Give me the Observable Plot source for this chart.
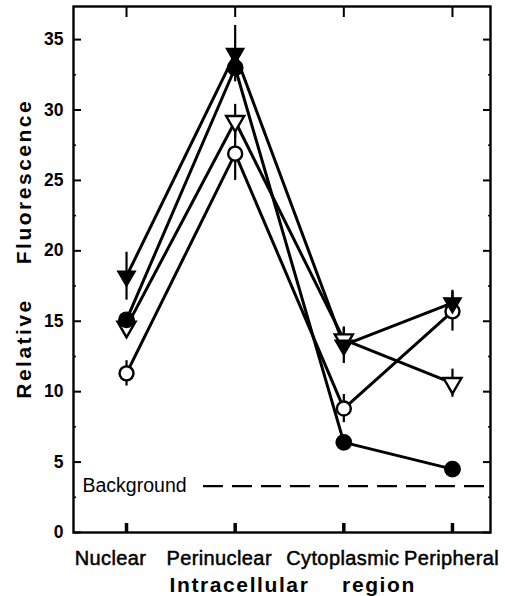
<!DOCTYPE html>
<html><head><meta charset="utf-8">
<script src="https://cdn.jsdelivr.net/npm/d3@7"></script>
<script src="https://cdn.jsdelivr.net/npm/@observablehq/plot@0.6"></script>
<style>body{margin:0;background:#fff;} svg{display:block;}</style>
</head><body><div id="chart"></div>
<script>
const regions = ["Nuclear", "Perinuclear", "Cytoplasmic", "Peripheral"];
const yTicks = [0, 5, 10, 15, 20, 25, 30, 35];
const yMinorTicks = [2.5, 7.5, 12.5, 17.5, 22.5, 27.5, 32.5];
// series values (Nuclear, Perinuclear, Cytoplasmic, Peripheral)
const filledTri = [18.2, 34.0, 13.3, 16.3];
const filledTriErr = [1.7, 2.0, 1.3, 0.9];
const filledCirc = [15.1, 33.0, 6.4, 4.5];
const filledCircErr = [0.4, 0.5, 0.3, 0.3];
const openTri = [14.6, 29.2, 13.7, 10.6];
const openTriErr = [0.8, 1.2, 0.8, 1.0];
const openCirc = [11.3, 26.9, 8.8, 15.7];
const openCircErr = [0.9, 1.9, 1.0, 1.4];
const background = 3.3;

const series = [
  {name: "filledTri", values: filledTri, err: filledTriErr},
  {name: "filledCirc", values: filledCirc, err: filledCircErr},
  {name: "openTri", values: openTri, err: openTriErr},
  {name: "openCirc", values: openCirc, err: openCircErr}
];
const rows = series.flatMap(s => s.values.map((v, i) => ({series: s.name, i, v, lo: v - s.err[i], hi: v + s.err[i]})));
const of = name => rows.filter(d => d.series === name);
const idx = regions.map((_, i) => i);
const font = "'Liberation Sans', Arial, Helvetica, sans-serif";
const blank = () => "";

const chart = Plot.plot({
  width: 505, height: 596,
  marginLeft: 73, marginRight: 15, marginTop: 6, marginBottom: 64,
  style: {fontFamily: font, background: "white", color: "black"},
  x: {domain: [-0.488, 3.35], axis: null},
  y: {domain: [0, 37.35], axis: null},
  marks: [
    // inner ticks
    Plot.axisY(yTicks, {anchor: "left", tickSize: -8, strokeWidth: 2, tickFormat: blank, label: null}),
    Plot.axisY(yTicks, {anchor: "right", tickSize: -8, strokeWidth: 2, tickFormat: blank, label: null}),
    Plot.axisY(yMinorTicks, {anchor: "left", tickSize: -3, strokeWidth: 1.5, tickFormat: blank, label: null}),
    Plot.axisY(yMinorTicks, {anchor: "right", tickSize: -3, strokeWidth: 1.5, tickFormat: blank, label: null}),
    Plot.axisX(idx, {anchor: "top", tickSize: -10, strokeWidth: 2, tickFormat: blank, label: null}),
    Plot.axisX(idx, {anchor: "bottom", tickSize: -9, strokeWidth: 3.5, tickFormat: blank, label: null}),
    // tick labels
    Plot.axisY(yTicks, {anchor: "left", tickSize: 0, tickPadding: 10, fontSize: 17.5, fontWeight: "bold", tickFormat: d => String(d), label: null}),
    Plot.axisX([0, 1], {anchor: "bottom", tickSize: 0, tickPadding: 18, fontSize: 20, dx: -16, tickFormat: i => regions[i], label: null}),
    Plot.axisX([2, 3], {anchor: "bottom", tickSize: 0, tickPadding: 18, fontSize: 20, dx: -1, tickFormat: i => regions[i], label: null}),
    // frame
    Plot.frame({strokeWidth: 2.4}),
    // background
    Plot.ruleY([background], {insetLeft: 130, strokeWidth: 2.2, strokeDasharray: "20,9"}),
    Plot.text(["Background"], {y: () => background, frameAnchor: "left", dx: 9, textAnchor: "start", fontSize: 19.5}),
    // lines
    ...series.map(s => Plot.line(of(s.name), {x: "i", y: "v", stroke: "black", strokeWidth: 3})),
    // error bars
    ...series.map(s => Plot.ruleX(of(s.name), {x: "i", y1: "lo", y2: "hi", stroke: "black", strokeWidth: 2.2})),
    // markers
    Plot.dot(of("openCirc"), {x: "i", y: "v", r: 7, fill: "white", stroke: "black", strokeWidth: 2.4}),
    Plot.dot(of("openTri"), {x: "i", y: "v", r: 6.7, symbol: "triangle", rotate: 180, fill: "white", stroke: "black", strokeWidth: 2.4}),
    Plot.dot(of("filledCirc"), {x: "i", y: "v", r: 7.7, fill: "black", stroke: "black"}),
    Plot.dot(of("filledTri"), {x: "i", y: "v", r: 6.7, symbol: "triangle", rotate: 180, fill: "black", stroke: "black", strokeWidth: 1.2}),
    // axis titles
    Plot.text(["Fluorescence"], {frameAnchor: "left", rotate: -90, dx: -49, dy: -88, textAnchor: "middle", fontSize: 21, fontWeight: "bold", lineAnchor: "middle"}),
    Plot.text(["Relative"], {frameAnchor: "left", rotate: -90, dx: -49, dy: 79, textAnchor: "middle", fontSize: 21, fontWeight: "bold", lineAnchor: "middle"}),
    Plot.text(["Intracellular"], {frameAnchor: "bottom", dx: -42.5, dy: 53, textAnchor: "middle", fontSize: 21, fontWeight: "bold", lineAnchor: "middle"}),
    Plot.text(["region"], {frameAnchor: "bottom", dx: 97, dy: 53, textAnchor: "middle", fontSize: 21, fontWeight: "bold", lineAnchor: "middle"})
  ]
});
const sel = d3.select(chart);
sel.selectAll("text").each(function() {
  const t = this.textContent;
  if (t === "Fluorescence" || t === "Relative") this.style.letterSpacing = "2.5px";
  if (t === "Intracellular" || t === "region") this.style.letterSpacing = "1.6px";
  if (regions.includes(t)) { this.style.letterSpacing = "0.4px"; this.style.stroke = "black"; this.style.strokeWidth = "0.5px"; }
});
document.getElementById("chart").appendChild(chart);
</script>
</body></html>
